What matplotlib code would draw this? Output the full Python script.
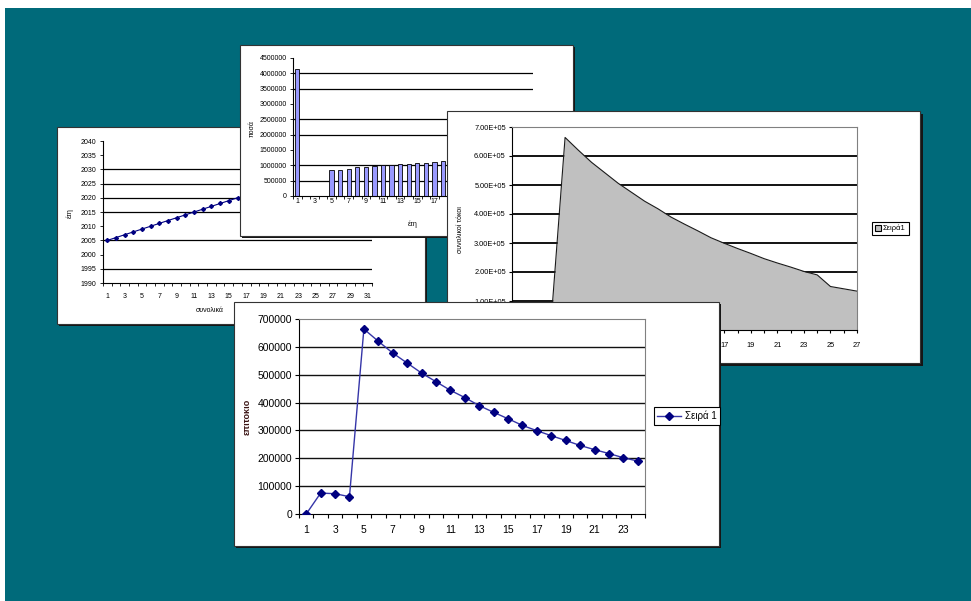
import matplotlib
matplotlib.use('Agg')
import matplotlib.pyplot as plt
import numpy as np
from matplotlib.patches import Rectangle

plt.rcParams.update({'font.family': ['Liberation Sans', 'DejaVu Sans'], 'axes.linewidth': 0.8})

W, H = 971, 601

# panel 1: years line
years_x = list(range(1, 17))
years = [2005, 2006, 2007, 2008, 2009, 2010, 2011, 2012, 2013, 2014, 2015, 2016, 2017, 2018, 2019, 2020]
years_ticks = [1990, 1995, 2000, 2005, 2010, 2015, 2020, 2025, 2030, 2035, 2040]
years_grid = [1995, 2005, 2015, 2020, 2025, 2030]
years_ncat = 31

# panel 2: amounts per year (bars)
bar_x = list(range(1, 19))
bar_vals = [4150000, 0, 0, 0, 850000, 860000, 880000, 930000, 940000, 980000,
            1000000, 1000000, 1040000, 1050000, 1070000, 1080000, 1110000, 1130000]
bar_ticks = [0, 500000, 1000000, 1500000, 2000000, 2500000, 3000000, 3500000, 4000000, 4500000]
bar_grid = [500000, 1000000, 2000000, 2500000, 3500000, 4000000]
bar_ncat = 28

# panel 4: interest per period
rate_x = list(range(1, 25))
rate = [0, 75000, 73000, 62000, 664000, 620000, 578000, 542000, 506000, 475000,
        444000, 418000, 389000, 365000, 342000, 318000, 299000, 281000, 264000,
        246000, 231000, 217000, 202000, 190000]
rate_ticks = [0, 100000, 200000, 300000, 400000, 500000, 600000, 700000]

# panel 3: same series as area, three more periods
area_x = list(range(1, 28))
area = rate + [150000, 142000, 134000]
area_ticks = [0, 100000, 200000, 300000, 400000, 500000, 600000, 700000]
area_labels = ['0.00E+00', '1.00E+05', '2.00E+05', '3.00E+05', '4.00E+05',
               '5.00E+05', '6.00E+05', '7.00E+05']

fig = plt.figure(figsize=(W / 100, H / 100), dpi=100)
fig.patch.set_facecolor('white')


def fbox(x0, y0, x1, y1):
    return [x0 / W, 1 - y1 / H, (x1 - x0) / W, (y1 - y0) / H]


def card(x0, y0, x1, y1, z, sh=2):
    fig.add_artist(Rectangle(((x0 + sh) / W, 1 - (y1 + sh) / H), (x1 - x0) / W, (y1 - y0) / H,
                             transform=fig.transFigure, facecolor='#151515', edgecolor='none', zorder=z))
    fig.add_artist(Rectangle((x0 / W, 1 - y1 / H), (x1 - x0) / W, (y1 - y0) / H,
                             transform=fig.transFigure, facecolor='white', edgecolor='#333333',
                             linewidth=0.8, zorder=z + 0.01))


def cat_axis(ax, n, fs, pad):
    ax.set_xlim(0.5, n + 0.5)
    ax.set_xticks(np.arange(0.5, n + 1, 1))
    ax.set_xticklabels([])
    ax.set_xticks(range(1, n + 1, 2), minor=True)
    ax.set_xticklabels([str(i) for i in range(1, n + 1, 2)], minor=True, fontsize=fs)
    ax.tick_params(axis='x', which='minor', length=0, pad=pad)


def ftext(ax, x, y, s, **kw):
    ax.text(x / W, 1 - y / H, s, transform=fig.transFigure, ha='center', va='center', **kw)


# teal slide background
fig.add_artist(Rectangle((5 / W, 0), 1 - 5 / W, 1 - 8 / H, transform=fig.transFigure,
                         facecolor='#006a7a', edgecolor='none', zorder=0))

# --- panel 1 ---
card(57, 127, 425, 324, 1)
axA = fig.add_axes(fbox(103, 141, 372, 283), zorder=1.1)
axA.set_ylim(1990, 2040)
axA.set_yticks(years_ticks)
axA.set_yticklabels([str(t) for t in years_ticks], fontsize=5)
for g in years_grid:
    axA.axhline(g, color='black', lw=0.9, zorder=0.5)
axA.plot(years_x, years, color='#000080', lw=0.8, marker='D', ms=2, zorder=3)
cat_axis(axA, years_ncat, 5, 7)
axA.tick_params(axis='both', which='major', length=2.5, width=0.6, pad=2.5)
for s in ['top', 'right']:
    axA.spines[s].set_visible(False)
ftext(axA, 70, 213, 'έτη', rotation=90, fontsize=5)
ftext(axA, 210, 311, 'συνολικά', fontsize=5)

# --- panel 2 ---
card(240, 45, 573, 236, 2)
axB = fig.add_axes(fbox(293, 58, 533, 196), zorder=2.1)
axB.set_ylim(0, 4500000)
axB.set_yticks(bar_ticks)
axB.set_yticklabels([str(t) for t in bar_ticks], fontsize=5)
for g in bar_grid:
    axB.axhline(g, color='black', lw=0.9, zorder=0.5)
axB.bar(bar_x, bar_vals, width=0.5, color='#9999ff', edgecolor='black', linewidth=0.6, zorder=2)
cat_axis(axB, bar_ncat, 5, 1.5)
axB.tick_params(axis='both', which='major', length=2.5, width=0.6, pad=2)
for s in ['top', 'right']:
    axB.spines[s].set_visible(False)
ftext(axB, 252, 129, 'ποσά', rotation=90, fontsize=5)
ftext(axB, 413, 224, 'έτη', fontsize=5)

# --- panel 3 ---
card(447, 111, 920, 363, 3, sh=3)
axC = fig.add_axes(fbox(512, 127, 857, 330), zorder=3.1)
axC.set_ylim(0, 700000)
axC.set_xlim(1, 27)
axC.set_yticks(area_ticks)
axC.set_yticklabels(area_labels, fontsize=5.3)
for g in area_ticks[1:-1]:
    axC.axhline(g, color='black', lw=1.3, zorder=0.5)
axC.fill_between(area_x, area, color='#c0c0c0', lw=0, zorder=2, label='Σειρά1')
axC.plot(area_x, area, color='#1a1a1a', lw=0.8, zorder=2.5)
axC.set_xticks(range(1, 28))
axC.set_xticklabels([str(i) if i % 2 else '' for i in range(1, 28)], fontsize=5.3)
axC.tick_params(axis='x', length=2.5, width=0.8, pad=6)
axC.tick_params(axis='y', length=2.5, width=0.8, pad=2)
for s in ['top', 'right']:
    axC.spines[s].set_color('#808080')
ftext(axC, 460, 230, 'συνολικοί τόκοι', rotation=90, fontsize=5)
legC = axC.legend(loc='center left', bbox_to_anchor=(872 / W, 1 - 228.5 / H),
                  bbox_transform=fig.transFigure, fontsize=5.5, fancybox=False,
                  edgecolor='black', framealpha=1, handlelength=0.8, handleheight=0.8,
                  handletextpad=0.3, borderpad=0.35, borderaxespad=0)
legC.get_frame().set_linewidth(0.8)
for hnd in legC.legend_handles:
    hnd.set_edgecolor('black')
    hnd.set_linewidth(0.8)

# --- panel 4 (front) ---
card(234, 302, 719, 546, 4)
axD = fig.add_axes(fbox(299, 319, 645, 514), zorder=4.1)
axD.set_ylim(0, 700000)
axD.set_yticks(rate_ticks)
axD.set_yticklabels([str(t) for t in rate_ticks], fontsize=7.5)
for g in rate_ticks[1:-1]:
    axD.axhline(g, color='#111111', lw=1.0, zorder=0.5)
axD.plot(rate_x, rate, color='#3535a8', lw=1.0, marker='D', ms=4,
         mfc='#000080', mec='#000080', zorder=3, label='Σειρά 1')
cat_axis(axD, len(rate_x), 7.5, 8)
axD.tick_params(axis='both', which='major', length=3, width=0.8, pad=2)
for s in ['top', 'right']:
    axD.spines[s].set_color('#808080')
ftext(axD, 247, 417, 'επιτοκιο', rotation=90, fontsize=6.5, fontweight='bold', color='#3b1414')
legD = axD.legend(loc='center left', bbox_to_anchor=(654 / W, 1 - 416 / H),
                  bbox_transform=fig.transFigure, fontsize=7, fancybox=False,
                  edgecolor='black', framealpha=1, handlelength=2.4,
                  handletextpad=0.4, borderpad=0.35, borderaxespad=0)
legD.get_frame().set_linewidth(0.8)

fig.savefig('out.png', dpi=100)
